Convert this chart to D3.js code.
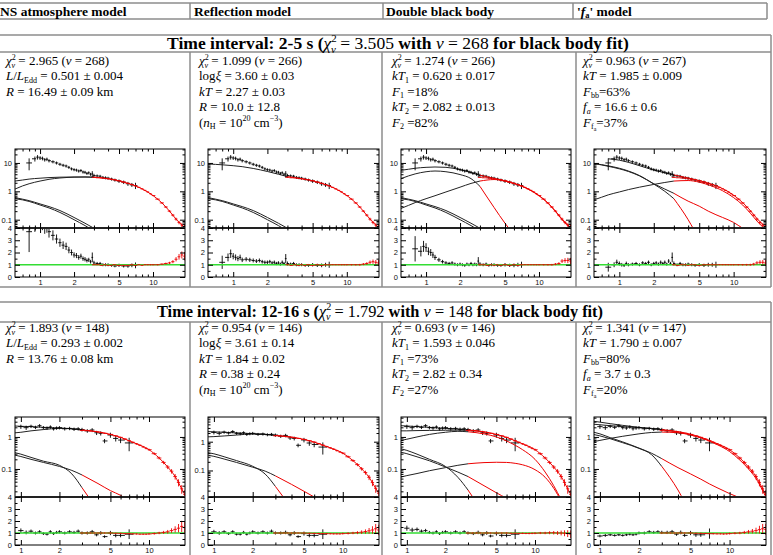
<!DOCTYPE html>
<html>
<head>
<meta charset="utf-8">
<script src="https://cdn.jsdelivr.net/npm/d3@7"></script>
<style>
body { margin: 0; background: #fff; }
svg { display: block; }
</style>
</head>
<body>
<div class="container"></div>
<script>
// spectra of two time intervals, fitted with four models
// top panels: unfolded spectra (black = soft instrument, red = hard one), bottom: data/model

const width = 773;
const height = 555;

const modelNames = ['NS atmosphere model', 'Reflection model', 'Double black body', "'fa' model"];

// energy grids (keV)
const eModel = [0.6, 0.7, 0.8, 1, 1.2, 1.5, 2, 2.5, 3, 4, 5, 6, 7, 8, 10, 12, 14, 16, 18, 20];
const eBlack1 = [0.8, 0.9, 0.95, 1.0, 1.05, 1.1, 1.15, 1.2, 1.3, 1.4, 1.5, 1.6, 1.7, 1.8, 1.9, 2.0, 2.1, 2.2, 2.3, 2.4, 2.5, 2.6, 2.7, 2.8, 2.9, 3.0, 3.2, 3.4, 3.6, 3.8, 4.0, 4.3, 4.6, 5.0, 5.5, 6.0, 6.5, 7.0];
const eBlack2 = [1.0, 1.1, 1.2, 1.3, 1.4, 1.5, 1.6, 1.7, 1.8, 1.9, 2.0, 2.2, 2.4, 2.6, 2.8, 3.0, 3.3, 3.6, 3.9, 4.2, 4.5, 5.0, 5.5, 6.0, 7.0];
const eRed = [3.0, 3.25, 3.5, 3.75, 4.0, 4.25, 4.5, 5.0, 5.5, 6.0, 6.5, 7.0, 7.5, 8.0, 8.5, 9.0, 9.5, 10, 11, 12, 13, 14, 15, 16, 17, 18, 19];

// interval 2-5 s data
const fluxBlack1 = [10, 14, 16, 15, 14.5, 13, 13.5, 12, 11, 10, 9, 8.3, 7.8, 7, 6.2, 5.8, 5.6, 5.2, 5.4, 4.8, 4.7, 4.3, 4.5, 4.0, 4.1, 3.6, 3.5, 3.4, 3.1, 3.0, 2.9, 2.7, 2.5, 2.3, 2.1, 1.85, 1.7, 1.6];
const errBlack1 = [0.45, 0.2, 0.18, 0.15, 0.15, 0.14, 0.14, 0.13, 0.12, 0.12, 0.12, 0.12, 0.12, 0.12, 0.12, 0.12, 0.12, 0.12, 0.12, 0.12, 0.12, 0.12, 0.12, 0.12, 0.25, 0.15, 0.12, 0.12, 0.12, 0.12, 0.12, 0.12, 0.12, 0.14, 0.14, 0.16, 0.16, 0.25];
const fluxRed1 = [3.1, 3.0, 2.95, 2.85, 2.75, 2.65, 2.55, 2.35, 2.12, 1.92, 1.72, 1.55, 1.38, 1.22, 1.08, 0.95, 0.82, 0.71, 0.53, 0.39, 0.28, 0.2, 0.145, 0.105, 0.08, 0.065, 0.058];
const errRed1 = [0.02, 0.02, 0.02, 0.02, 0.02, 0.02, 0.02, 0.025, 0.025, 0.025, 0.03, 0.03, 0.03, 0.035, 0.035, 0.04, 0.04, 0.045, 0.05, 0.06, 0.07, 0.08, 0.1, 0.12, 0.14, 0.16, 0.2];

// interval 12-16 s data
const fluxBlack2 = [2.1, 1.95, 2.15, 2.0, 2.25, 1.95, 1.9, 2.05, 1.8, 1.9, 1.95, 1.8, 1.85, 1.75, 1.8, 1.7, 1.55, 1.65, 1.35, 1.3, 0.75, 1.15, 0.9, 0.8, 0.65];
const errBlack2 = [0.15, 0.15, 0.12, 0.12, 0.12, 0.12, 0.12, 0.12, 0.12, 0.12, 0.12, 0.12, 0.12, 0.12, 0.12, 0.13, 0.13, 0.14, 0.15, 0.15, 0.15, 0.18, 0.2, 0.2, 0.45];
const fluxRed2 = [1.6, 1.57, 1.53, 1.48, 1.42, 1.36, 1.3, 1.2, 1.08, 0.97, 0.86, 0.76, 0.68, 0.61, 0.55, 0.49, 0.44, 0.4, 0.3, 0.22, 0.16, 0.115, 0.085, 0.058, 0.038, 0.024, 0.016];
const errRed2 = [0.03, 0.03, 0.03, 0.03, 0.03, 0.035, 0.035, 0.04, 0.04, 0.045, 0.05, 0.05, 0.055, 0.06, 0.06, 0.07, 0.07, 0.08, 0.09, 0.1, 0.12, 0.14, 0.16, 0.2, 0.25, 0.3, 0.35];

// model curves on eModel (missing = not drawn)
const s1p1Total = [2.3, 2.5, 2.7, 2.9, 3.05, 3.15, 3.2, 3.2, 3.15, 2.8, 2.35, 1.92, 1.55, 1.22, 0.71, 0.39, 0.2, 0.105, 0.065, 0.045];
const s1p1Alt = [1.2, 1.55, 1.85, 2.3, 2.65, 2.95, 3.15, 3.2, 3.15];
const s1LowA = [0.6, 0.53, 0.47, 0.36, 0.29, 0.21, 0.12, 0.075, 0.05, 0.02];
const s1LowB = [0.55, 0.5, 0.44, 0.33, 0.26, 0.18, 0.1, 0.062, 0.04, 0.015];
const s1p2Total = [9.2, 8.9, 8.6, 8.0, 7.4, 6.4, 5.0, 4.0, 3.3, 2.8, 2.35, 1.92, 1.55, 1.22, 0.71, 0.39, 0.2, 0.105, 0.065, 0.045];
const s1p3Total = [5.5, 6.0, 6.5, 7.0, 7.2, 7.0, 5.8, 4.6, 3.7, 2.85, 2.35, 1.92, 1.55, 1.22, 0.71, 0.39, 0.2, 0.105, 0.065, 0.045];
const s1p3T1 = [2.8, 3.5, 4.1, 4.9, 5.2, 4.9, 3.9, 2.8, 1.5, 0.27, 0.075, 0.03];
const s1p3T2 = [0.25, 0.32, 0.4, 0.55, 0.7, 0.95, 1.4, 1.9, 2.3, 2.6, 2.3, 1.88, 1.52, 1.2, 0.7, 0.38, 0.195, 0.1, 0.062, 0.043];
const s1p4Total = [null, null, 14, 12.5, 10.5, 8, 5.6, 4.5, 3.8, 2.95, 2.4, 1.95, 1.58, 1.25, 0.73, 0.4, 0.21, 0.11, 0.068, 0.047];
const s1p4FaA = [9.5, 8.5, 7.6, 6.2, 5.0, 3.5, 1.85, 1.2, 0.85, 0.45, 0.3, 0.2, 0.15, 0.12, 0.08, 0.05, 0.035];
const s1p4FaB = [9.5, 8.7, 7.9, 6.5, 5.2, 3.6, 1.8, 1.0, 0.55, 0.1, 0.02];
const s1p4BB = [0.5, 0.62, 0.75, 0.95, 1.15, 1.4, 1.75, 2.05, 2.3, 2.4, 2.1, 1.7, 1.35, 1.05, 0.6, 0.33, 0.17, 0.09, 0.055, 0.035];

const s2p1Total = [null, null, 2.25, 2.15, 2.1, 2.0, 1.9, 1.8, 1.65, 1.45, 1.2, 0.97, 0.76, 0.61, 0.4, 0.22, 0.115, 0.058, 0.024, 0.011];
const s2p1Alt = [null, null, 1.3, 1.4, 1.55, 1.7, 1.85, 1.8, 1.65];
const s2p1LowA = [null, null, 0.36, 0.29, 0.23, 0.175, 0.13, 0.07, 0.026, 0.005];
const s2p1LowB = [null, null, 0.3, 0.245, 0.2, 0.16, 0.12, 0.09, 0.065, 0.035, 0.021, 0.015, 0.01];
const s2p2Total = [null, null, 2.3, 2.2, 2.12, 2.02, 1.9, 1.8, 1.65, 1.45, 1.2, 0.97, 0.76, 0.61, 0.4, 0.22, 0.115, 0.058, 0.024, 0.011];
const s2p2Alt = [null, null, 1.45, 1.5, 1.58, 1.7, 1.85, 1.8, 1.65];
const s2p2LowA = [null, null, 0.45, 0.38, 0.3, 0.22, 0.14, 0.075, 0.028, 0.005];
const s2p2LowB = [null, null, 0.37, 0.31, 0.25, 0.19, 0.13, 0.095, 0.065, 0.033, 0.019, 0.012, 0.008];
const s2p3Total = [null, null, 2.3, 2.2, 2.1, 2.0, 1.85, 1.75, 1.65, 1.45, 1.2, 0.97, 0.76, 0.61, 0.4, 0.22, 0.115, 0.058, 0.024, 0.011];
const s2p3Alt = [null, null, 1.55, 1.55, 1.58, 1.6, 1.62, 1.63, 1.62];
const s2p3T1 = [null, null, 0.7, 0.85, 1.0, 1.2, 1.4, 1.5, 1.45, 1.25, 1.0, 0.75, 0.55, 0.4, 0.2, 0.08, 0.03, 0.011];
const s2p3T2 = [null, null, 0.05, 0.062, 0.072, 0.088, 0.11, 0.13, 0.145, 0.158, 0.162, 0.16, 0.15, 0.135, 0.095, 0.055, 0.025, 0.01];
const s2p3LowA = [null, null, 0.48, 0.38, 0.29, 0.2, 0.12, 0.055, 0.022, 0.004];
const s2p3LowB = [null, null, 0.37, 0.3, 0.24, 0.18, 0.115, 0.08, 0.058, 0.03, 0.018, 0.012, 0.008];
const s2p4Total = [null, null, 3.3, 2.9, 2.6, 2.3, 2.0, 1.85, 1.7, 1.47, 1.22, 0.98, 0.78, 0.62, 0.4, 0.22, 0.115, 0.058, 0.024, 0.011];
const s2p4Alt = [null, null, 2.6, 2.4, 2.25, 2.1, 1.95, 1.83, 1.7];
const s2p4FaA = [null, null, 1.55, 1.25, 0.95, 0.7, 0.45, 0.31, 0.21, 0.11, 0.07, 0.048, 0.034, 0.026, 0.017, 0.0125];
const s2p4FaB = [null, null, 1.3, 1.08, 0.88, 0.66, 0.44, 0.28, 0.12, 0.022, 0.004];
const s2p4BB = [null, null, 0.65, 0.78, 0.9, 1.05, 1.25, 1.38, 1.42, 1.35, 1.15, 0.93, 0.74, 0.58, 0.35, 0.19, 0.1, 0.05, 0.021, 0.009];

// residuals (data / model)
const s1p1ResB = [3.7, 4.6, 5, 4.8, 4.5, 4.1, 4.2, 3.7, 3.4, 3.1, 2.8, 2.6, 2.5, 2.2, 2.0, 1.8, 1.75, 1.6, 1.7, 1.5, 1.45, 1.35, 1.4, 1.25, 1.6, 1.15, 1.1, 1.1, 1.0, 1.0, 1.0, 0.95, 0.9, 0.95, 0.9, 0.9, 0.95, 0.95];
const s1p2ResB = [1.2, 1.6, 1.9, 1.7, 1.6, 1.5, 1.6, 1.4, 1.45, 1.4, 1.35, 1.3, 1.35, 1.25, 1.2, 1.2, 1.25, 1.15, 1.2, 1.1, 1.15, 1.05, 1.2, 1.1, 1.5, 1.1, 1.05, 1.1, 1.0, 1.0, 1.0, 0.95, 0.95, 1.0, 0.95, 0.95, 1.0, 1.0];
const s1p3ResB = [2.3, 2.1, 2.5, 2.4, 2.1, 2.0, 1.8, 1.6, 1.4, 1.25, 1.15, 1.1, 1.15, 1.05, 1.0, 1.05, 1.0, 0.95, 1.05, 1.0, 1.1, 1.0, 1.05, 1.0, 1.3, 1.05, 1.0, 1.05, 0.95, 1.0, 1.0, 0.95, 0.95, 1.0, 0.95, 0.95, 1.0, 1.0];
const s1p4ResB = [0.8, 1.0, 1.2, 1.1, 1.0, 0.95, 1.1, 1.0, 1.05, 1.1, 1.0, 1.15, 1.1, 1.2, 1.0, 1.1, 1.15, 1.05, 1.2, 1.1, 1.2, 1.05, 1.3, 1.1, 1.6, 1.1, 1.0, 1.1, 1.0, 1.0, 1.05, 1.0, 0.95, 1.0, 0.95, 1.0, 1.0, 1.0];
const s1p1ResR = [1.0, 1.0, 0.95, 1.0, 0.95, 0.95, 1.0, 0.95, 0.95, 0.95, 1.0, 0.95, 1.0, 0.95, 1.0, 1.0, 1.0, 1.0, 1.0, 1.05, 1.1, 1.15, 1.25, 1.45, 1.65, 1.8, 1.7];
const s1p2ResR = [1.0, 0.95, 1.0, 0.95, 1.0, 0.95, 1.0, 0.95, 1.0, 0.95, 1.0, 1.0, 1.0, 1.0, 1.0, 1.0, 1.0, 1.0, 1.0, 1.0, 1.0, 1.05, 1.1, 1.2, 1.25, 1.2, 1.15];
const s1p3ResR = [1.0, 1.0, 0.95, 1.0, 0.95, 1.0, 0.95, 1.0, 0.95, 1.0, 0.95, 1.0, 1.0, 1.0, 1.0, 1.0, 1.0, 1.0, 1.0, 1.0, 1.0, 1.05, 1.1, 1.3, 1.35, 1.35, 1.3];
const s1p4ResR = [1.0, 0.95, 1.0, 1.0, 0.95, 1.0, 1.0, 0.95, 1.0, 1.0, 1.0, 1.0, 1.0, 1.0, 1.0, 1.0, 1.0, 1.0, 1.0, 1.0, 1.0, 1.0, 1.05, 1.15, 1.2, 1.2, 1.15];
const s2p1ResB = [1.2, 1.05, 1.15, 1.0, 1.1, 0.95, 0.9, 1.1, 0.95, 1.05, 1.1, 1.0, 1.1, 1.05, 1.15, 1.0, 1.0, 1.1, 0.85, 1.0, 0.7, 1.0, 0.8, 0.8, 0.9];
const s2p2ResB = [1.1, 1.0, 1.1, 0.95, 1.1, 0.9, 0.9, 1.05, 0.9, 1.0, 1.1, 1.0, 1.1, 1.0, 1.15, 1.0, 1.0, 1.05, 0.85, 1.0, 0.7, 0.95, 0.8, 0.8, 0.9];
const s2p3ResB = [1.4, 1.25, 1.3, 1.15, 1.2, 1.05, 1.0, 1.1, 0.95, 1.05, 1.1, 1.0, 1.1, 1.0, 1.1, 1.0, 0.95, 1.05, 0.85, 1.0, 0.75, 0.95, 0.8, 0.8, 0.9];
const s2p4ResB = [0.75, 0.8, 0.85, 0.8, 0.85, 0.8, 0.85, 0.9, 0.85, 0.9, 1.0, 1.0, 1.1, 1.05, 1.1, 1.05, 1.05, 1.1, 0.9, 1.05, 0.8, 1.0, 0.85, 0.85, 0.95];
const s2p1ResR = [1.0, 1.0, 1.0, 1.0, 1.0, 1.0, 1.0, 1.0, 0.98, 0.97, 0.95, 0.95, 0.93, 0.92, 0.9, 0.9, 0.9, 0.92, 0.95, 1.0, 1.05, 1.1, 1.2, 1.3, 1.4, 1.55, 1.45];
const s2p2ResR = [1.0, 1.0, 1.0, 1.0, 1.0, 1.0, 1.0, 1.0, 0.98, 0.97, 0.96, 0.95, 0.95, 0.94, 0.93, 0.93, 0.93, 0.95, 0.97, 1.0, 1.03, 1.07, 1.12, 1.18, 1.25, 1.35, 1.25];
const s2p3ResR = [1.0, 1.0, 1.0, 1.0, 1.0, 1.0, 1.0, 1.0, 1.0, 1.0, 0.98, 0.98, 0.97, 0.97, 0.96, 0.96, 0.97, 0.98, 1.0, 1.0, 1.02, 1.02, 1.0, 1.0, 0.98, 0.95, 0.9];
const s2p4ResR = [1.0, 1.0, 1.0, 1.0, 1.0, 1.0, 1.0, 1.0, 0.98, 0.97, 0.96, 0.95, 0.94, 0.93, 0.93, 0.92, 0.93, 0.95, 0.98, 1.0, 1.05, 1.1, 1.15, 1.2, 1.28, 1.35, 1.3];

// tick values
const xMajor = [1, 2, 5, 10];
const xMinor = [0.6, 0.7, 0.8, 0.9, 3, 4, 6, 7, 8, 9];
const logMajor = [0.01, 0.1, 1, 10];
const logMinor = [0.02, 0.03, 0.04, 0.05, 0.06, 0.07, 0.08, 0.09, 0.2, 0.3, 0.4, 0.5, 0.6, 0.7, 0.8, 0.9, 2, 3, 4, 5, 6, 7, 8, 9, 20, 30];
const resMajor = [0, 1, 2, 3, 4];
const resMinor = [0.5, 1.5, 2.5, 3.5];

// fit parameters shown in the table cells
const chi = [{ t: 'χ', i: 1, n: 1 }, { t: '2', sup: 1, n: 1 }, { t: 'ν', sub: 1, i: 1, n: 1, back: 0.33 }];
const chiLine = (v, nu) => [...chi, ` = ${v} (`, { t: 'ν', i: 1 }, ` = ${nu})`];
const pm = (name, v) => [...name, ` = ${v}`];
const nH = ['(', { t: 'n', i: 1 }, { t: 'H', sub: 1 }, ' = 10', { t: '20', sup: 1 }, ' cm', { t: '−3', sup: 1 }, ')'];

const cells1 = [
  [chiLine('2.965', '268'), pm([{ t: 'L', i: 1 }, '/', { t: 'L', i: 1 }, { t: 'Edd', sub: 1 }], '0.501 ± 0.004'), pm([{ t: 'R', i: 1 }], '16.49 ± 0.09 km')],
  [chiLine('1.099', '266'), pm(['log', { t: 'ξ', i: 1 }], '3.60 ± 0.03'), pm([{ t: 'kT', i: 1 }], '2.27 ± 0.03'), pm([{ t: 'R', i: 1 }], '10.0 ± 12.8'), nH],
  [chiLine('1.274', '266'), pm([{ t: 'kT', i: 1 }, { t: '1', sub: 1 }], '0.620 ± 0.017'), [{ t: 'F', i: 1 }, { t: '1', sub: 1 }, ' =18%'], pm([{ t: 'kT', i: 1 }, { t: '2', sub: 1 }], '2.082 ± 0.013'), [{ t: 'F', i: 1 }, { t: '2', sub: 1 }, ' =82%']],
  [chiLine('0.963', '267'), pm([{ t: 'kT', i: 1 }], '1.985 ± 0.009'), [{ t: 'F', i: 1 }, { t: 'bb', sub: 1 }, '=63%'], pm([{ t: 'f', i: 1 }, { t: 'a', sub: 1, i: 1 }], '16.6 ± 0.6'), [{ t: 'F', i: 1 }, { t: 'f', sub: 1 }, { t: 'a', sub2: 1 }, '=37%']],
];
const cells2 = [
  [chiLine('1.893', '148'), pm([{ t: 'L', i: 1 }, '/', { t: 'L', i: 1 }, { t: 'Edd', sub: 1 }], '0.293 ± 0.002'), pm([{ t: 'R', i: 1 }], '13.76 ± 0.08 km')],
  [chiLine('0.954', '146'), pm(['log', { t: 'ξ', i: 1 }], '3.61 ± 0.14'), pm([{ t: 'kT', i: 1 }], '1.84 ± 0.02'), pm([{ t: 'R', i: 1 }], '0.38 ± 0.24'), nH],
  [chiLine('0.693', '146'), pm([{ t: 'kT', i: 1 }, { t: '1', sub: 1 }], '1.593 ± 0.046'), [{ t: 'F', i: 1 }, { t: '1', sub: 1 }, ' =73%'], pm([{ t: 'kT', i: 1 }, { t: '2', sub: 1 }], '2.82 ± 0.34'), [{ t: 'F', i: 1 }, { t: '2', sub: 1 }, ' =27%']],
  [chiLine('1.341', '147'), pm([{ t: 'kT', i: 1 }], '1.790 ± 0.007'), [{ t: 'F', i: 1 }, { t: 'bb', sub: 1 }, '=80%'], pm([{ t: 'f', i: 1 }, { t: 'a', sub: 1, i: 1 }], '3.7 ± 0.3'), [{ t: 'F', i: 1 }, { t: 'f', sub: 1 }, { t: 'a', sub2: 1 }, '=20%']],
];
const title1 = ['Time interval: 2-5 s (', ...chi, { t: ' = 3.505 ', n: 1 }, 'with ', { t: 'ν', i: 1, n: 1 }, { t: ' = 268 ', n: 1 }, 'for black body fit)'];
const title2 = ['Time interval: 12-16 s (', ...chi, { t: ' = 1.792 ', n: 1 }, 'with ', { t: 'ν', i: 1, n: 1 }, { t: ' = 148 ', n: 1 }, 'for black body fit)'];

// layout
const RED = '#ee0000';
const GREEN = '#33dd33';
const LINE = '#8c8c8c';
const serif = 'Liberation Serif, Times New Roman, serif';
const sans = 'Liberation Sans, Arial, sans-serif';
const colX = [190, 382, 576];
const pLeft = [15, 208, 401, 594];
const pRight = [185, 379, 571, 766];
const cellFont = 13;
const cellStep = 15.4;

const sections = [
  { top: 149, split: 228, bottom: 277, xDom: [0.6, 19.2], eB: eBlack1, fB: fluxBlack1, errB: errBlack1, fR: fluxRed1, errR: errRed1,
    titleTop: 35, titleBot: 52, titleX: 167, titleW: 468, titleY: 49, cellsEnd: 287, textY: 65, cells: cells1, title: title1 },
  { top: 417, split: 497, bottom: 545, xDom: [0.9, 19.1], eB: eBlack2, fB: fluxBlack2, errB: errBlack2, fR: fluxRed2, errR: errRed2,
    titleTop: 302, titleBot: 322, titleX: 157, titleW: 452, titleY: 317, cellsEnd: 560, textY: 332, cells: cells2, title: title2 },
];

const panels = [
  { sec: 0, col: 0, yDom: [0.051, 31], models: [s1p1Total, s1p1Alt, s1LowA, s1LowB], resB: s1p1ResB, resR: s1p1ResR },
  { sec: 0, col: 1, yDom: [0.051, 31], models: [s1p2Total, s1LowA, s1LowB], resB: s1p2ResB, resR: s1p2ResR },
  { sec: 0, col: 2, yDom: [0.051, 31], models: [s1p3Total, s1p3T1, s1p3T2, s1LowA, s1LowB], resB: s1p3ResB, resR: s1p3ResR },
  { sec: 0, col: 3, yDom: [0.051, 31], models: [s1p4Total, s1p4FaA, s1p4FaB, s1p4BB], resB: s1p4ResB, resR: s1p4ResR },
  { sec: 1, col: 0, yDom: [0.0133, 4.2], models: [s2p1Total, s2p1Alt, s2p1LowA, s2p1LowB], resB: s2p1ResB, resR: s2p1ResR },
  { sec: 1, col: 1, yDom: [0.012, 7.2], models: [s2p2Total, s2p2Alt, s2p2LowA, s2p2LowB], resB: s2p2ResB, resR: s2p2ResR },
  { sec: 1, col: 2, yDom: [0.0133, 4.2], models: [s2p3Total, s2p3Alt, s2p3T1, s2p3T2, s2p3LowA, s2p3LowB], resB: s2p3ResB, resR: s2p3ResR },
  { sec: 1, col: 3, yDom: [0.0133, 4.2], models: [s2p4Total, s2p4Alt, s2p4FaA, s2p4FaB, s2p4BB], resB: s2p4ResB, resR: s2p4ResR },
];

const svg = d3.select('.container')
  .append('svg')
  .attr('width', width)
  .attr('height', height);

// text with italic / sub / sup pieces
function rich(parent, x, y, segs, size, bold) {
  const t = parent.append('text')
    .attr('x', x).attr('y', y)
    .attr('font-family', serif)
    .attr('font-size', size)
    .attr('font-weight', bold ? 'bold' : 'normal')
    .attr('fill', '#000');
  let cur = 0;
  segs.forEach(s => {
    if (typeof s === 'string') s = { t: s };
    const off = s.sup ? -0.4 : s.sub ? 0.2 : s.sub2 ? 0.32 : 0;
    const sp = t.append('tspan').text(s.t).attr('dy', ((off - cur) * size).toFixed(2));
    cur = off;
    if (s.sup || s.sub) sp.attr('font-size', (size * 0.62).toFixed(2));
    if (s.sub2) sp.attr('font-size', (size * 0.46).toFixed(2));
    if (s.i) sp.attr('font-style', 'italic');
    if (s.n) sp.attr('font-weight', 'normal');
    if (s.back) sp.attr('dx', (-s.back * size).toFixed(2));
  });
  return t;
}

function fitRich(parent, x, y, segs, size, w, bold) {
  const t = rich(parent, x, y, segs, size, bold);
  const got = t.node().getComputedTextLength();
  t.remove();
  return rich(parent, x, y, segs, size * w / got, bold);
}

function hline(x1, x2, y) {
  svg.append('line').attr('x1', x1).attr('x2', x2).attr('y1', y).attr('y2', y)
    .attr('stroke', LINE).attr('stroke-width', 1.5);
}
function vline(x, y1, y2) {
  svg.append('line').attr('x1', x).attr('x2', x).attr('y1', y1).attr('y2', y2)
    .attr('stroke', LINE).attr('stroke-width', 1.5);
}

// header row
hline(-2, 767, 3);
hline(-2, 767, 19);
[190, 383, 573, 767].forEach(x => vline(x, 3, 19));
const headX = [0, 194, 386, 577];
const headSegs = [[modelNames[0]], [modelNames[1]], [modelNames[2]], ["'", { t: 'f', i: 1 }, { t: 'a', sub: 1 }, "' model"]];
headSegs.forEach((s, i) => rich(svg, headX[i], 15.5, s, 13.5, true));

// section tables
sections.forEach(sec => {
  hline(-2, 771, sec.titleTop);
  hline(-2, 771, sec.titleBot);
  vline(771, sec.titleTop, sec.cellsEnd);
  colX.forEach(x => vline(x, sec.titleBot, sec.cellsEnd));
  hline(-2, 771, sec.cellsEnd);
  fitRich(svg, sec.titleX, sec.titleY, sec.title, 15, sec.titleW, true);
  const tx = [6, 199, 392, 583];
  sec.cells.forEach((lines, c) => {
    lines.forEach((segs, r) => rich(svg, tx[c], sec.textY + r * cellStep, segs, cellFont, false));
  });
});

function binEdges(e) {
  return e.map((v, i) => {
    const lo = i > 0 ? Math.sqrt(e[i - 1] * v) : v * Math.sqrt(v / e[1]);
    const hi = i < e.length - 1 ? Math.sqrt(e[i + 1] * v) : v * Math.sqrt(v / e[i - 1]);
    return [lo, hi];
  });
}

function crossPath(x, y, e, vals, err) {
  const edges = binEdges(e);
  let d = '';
  e.forEach((v, i) => {
    const f = vals[i];
    if (f == null) return;
    const yv = y(f);
    d += `M${x(edges[i][0])},${yv}H${x(edges[i][1])}`;
    d += `M${x(v)},${y(f * (1 - err[i]))}V${y(f * (1 + err[i]))}`;
  });
  return d;
}

function styleAxis(g) {
  g.select('.domain').remove();
  g.attr('font-family', null).attr('font-size', null);
  g.selectAll('line').attr('stroke', '#000');
  g.selectAll('text').attr('font-family', sans).attr('font-size', 7.5).attr('fill', '#111');
}

function ticksFor(g, x, y, x0, x1, y0, y1, yMaj, yMin, yFmt, xLabels) {
  const none = () => '';
  const bot = g.append('g').attr('transform', `translate(0,${y1})`);
  bot.append('g').call(d3.axisBottom(x).tickValues(xMajor).tickSize(-5).tickPadding(3).tickFormat(xLabels ? d3.format('d') : none)).call(styleAxis);
  bot.append('g').call(d3.axisBottom(x).tickValues(xMinor.filter(v => v > x.domain()[0])).tickSize(-2.5).tickFormat(none)).call(styleAxis);
  const top = g.append('g').attr('transform', `translate(0,${y0})`);
  top.append('g').call(d3.axisTop(x).tickValues(xMajor).tickSize(-5).tickFormat(none)).call(styleAxis);
  top.append('g').call(d3.axisTop(x).tickValues(xMinor.filter(v => v > x.domain()[0])).tickSize(-2.5).tickFormat(none)).call(styleAxis);
  const lft = g.append('g').attr('transform', `translate(${x0},0)`);
  lft.append('g').call(d3.axisLeft(y).tickValues(yMaj).tickSize(-5).tickPadding(3).tickFormat(yFmt)).call(styleAxis);
  lft.append('g').call(d3.axisLeft(y).tickValues(yMin).tickSize(-2.5).tickFormat(none)).call(styleAxis);
  const rgt = g.append('g').attr('transform', `translate(${x1},0)`);
  rgt.append('g').call(d3.axisRight(y).tickValues(yMaj).tickSize(-5).tickFormat(none)).call(styleAxis);
  rgt.append('g').call(d3.axisRight(y).tickValues(yMin).tickSize(-2.5).tickFormat(none)).call(styleAxis);
}

panels.forEach((p, k) => {
  const sec = sections[p.sec];
  const x0 = pLeft[p.col], x1 = pRight[p.col];
  const x = d3.scaleLog().domain(sec.xDom).range([x0, x1]);
  const y = d3.scaleLog().domain(p.yDom).range([sec.split, sec.top]);
  const yr = d3.scaleLinear().domain([0, 4]).range([sec.bottom, sec.split]);

  const g = svg.append('g');
  const defs = g.append('defs');
  defs.append('clipPath').attr('id', `cm${k}`).append('rect')
    .attr('x', x0).attr('y', sec.top).attr('width', x1 - x0).attr('height', sec.split - sec.top);
  defs.append('clipPath').attr('id', `cr${k}`).append('rect')
    .attr('x', x0).attr('y', sec.split).attr('width', x1 - x0).attr('height', sec.bottom - sec.split);

  const main = g.append('g').attr('clip-path', `url(#cm${k})`);
  const line = d3.line().x(d => x(d.e)).y(d => y(d.v)).curve(d3.curveMonotoneX);
  const pts = arr => eModel.map((e, i) => ({ e, v: arr[i] })).filter(d => d.v != null);

  // black model parts
  p.models.forEach(m => {
    const part = pts(m).filter(d => d.e <= 3);
    if (part.length > 1) main.append('path').attr('d', line(part)).attr('fill', 'none').attr('stroke', '#222').attr('stroke-width', 1);
  });
  main.append('path').attr('d', crossPath(x, y, sec.eB, sec.fB, sec.errB))
    .attr('stroke', '#000').attr('stroke-width', 0.9).attr('fill', 'none');
  main.append('path').attr('d', crossPath(x, y, eRed, sec.fR, sec.errR))
    .attr('stroke', RED).attr('stroke-width', 0.9).attr('fill', 'none');
  p.models.forEach(m => {
    const part = pts(m).filter(d => d.e >= 3);
    if (part.length > 1) main.append('path').attr('d', line(part)).attr('fill', 'none').attr('stroke', RED).attr('stroke-width', 1);
  });

  // residuals
  const res = g.append('g').attr('clip-path', `url(#cr${k})`);
  res.append('path').attr('d', crossPath(x, yr, sec.eB, p.resB, sec.errB))
    .attr('stroke', '#000').attr('stroke-width', 0.9).attr('fill', 'none');
  res.append('line').attr('x1', x0).attr('x2', x1).attr('y1', yr(1)).attr('y2', yr(1))
    .attr('stroke', GREEN).attr('stroke-width', 1.3);
  res.append('path').attr('d', crossPath(x, yr, eRed, p.resR, sec.errR))
    .attr('stroke', RED).attr('stroke-width', 0.9).attr('fill', 'none');

  // frames
  g.append('rect').attr('x', x0).attr('y', sec.top).attr('width', x1 - x0).attr('height', sec.bottom - sec.top)
    .attr('fill', 'none').attr('stroke', '#000').attr('stroke-width', 1);
  g.append('line').attr('x1', x0).attr('x2', x1).attr('y1', sec.split).attr('y2', sec.split)
    .attr('stroke', '#222').attr('stroke-width', 2);

  const yMaj = logMajor.filter(v => v >= p.yDom[0] && v <= p.yDom[1]);
  const yMin = logMinor.filter(v => v > p.yDom[0] && v < p.yDom[1]);
  ticksFor(g, x, y, x0, x1, sec.top, sec.split, yMaj, yMin, d3.format('~g'), false);
  ticksFor(g, x, yr, x0, x1, sec.split, sec.bottom, resMajor, resMinor, d3.format('d'), true);
});
</script>
</body>
</html>
